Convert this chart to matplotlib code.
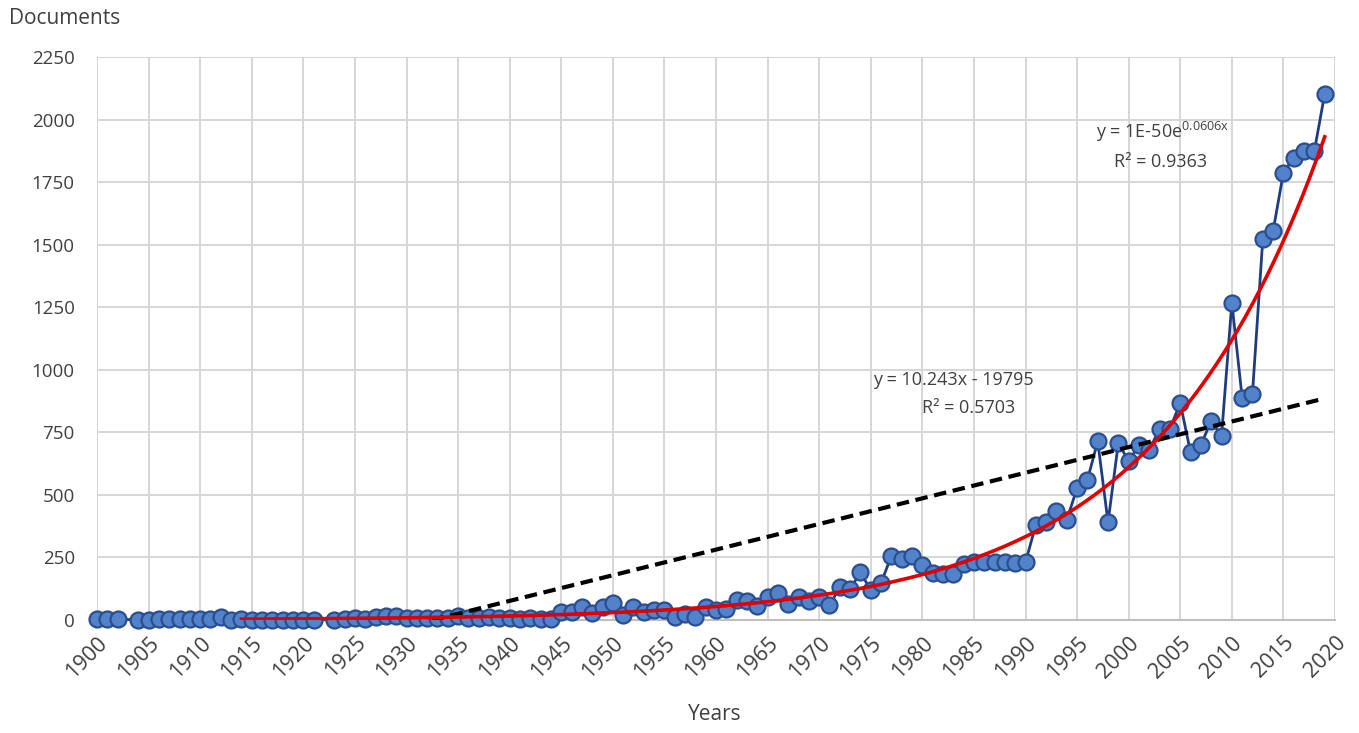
import matplotlib
matplotlib.use('Agg')
import matplotlib.pyplot as plt
import numpy as np

# Documents per year (1903 and 1922 have no entry)
years = [1900, 1901, 1902, 1904, 1905, 1906, 1907, 1908, 1909, 1910,
         1911, 1912, 1913, 1914, 1915, 1916, 1917, 1918, 1919, 1920,
         1921, 1923, 1924, 1925, 1926, 1927, 1928, 1929, 1930, 1931,
         1932, 1933, 1934, 1935, 1936, 1937, 1938, 1939, 1940, 1941,
         1942, 1943, 1944, 1945, 1946, 1947, 1948, 1949, 1950, 1951,
         1952, 1953, 1954, 1955, 1956, 1957, 1958, 1959, 1960, 1961,
         1962, 1963, 1964, 1965, 1966, 1967, 1968, 1969, 1970, 1971,
         1972, 1973, 1974, 1975, 1976, 1977, 1978, 1979, 1980, 1981,
         1982, 1983, 1984, 1985, 1986, 1987, 1988, 1989, 1990, 1991,
         1992, 1993, 1994, 1995, 1996, 1997, 1998, 1999, 2000, 2001,
         2002, 2003, 2004, 2005, 2006, 2007, 2008, 2009, 2010, 2011,
         2012, 2013, 2014, 2015, 2016, 2017, 2018, 2019]
documents = [3, 3, 3, 1, 1, 2, 2, 3, 5, 5,
             2, 12, 0, 4, 1, 1, 1, 1, 1, 1,
             1, 1, 5, 6, 3, 10, 14, 14, 8, 6,
             8, 6, 9, 16, 7, 7, 10, 6, 9, 4,
             6, 5, 4, 33, 33, 52, 29, 52, 68, 20,
             50, 33, 40, 40, 13, 22, 13, 50, 40, 45,
             80, 75, 55, 93, 107, 62, 93, 75, 93, 58,
             131, 124, 190, 120, 148, 256, 245, 256, 218, 188,
             182, 182, 224, 233, 230, 231, 233, 228, 231, 380,
             393, 434, 400, 527, 560, 714, 390, 708, 634, 700,
             680, 765, 765, 867, 670, 700, 795, 735, 1268, 888,
             905, 1521, 1555, 1788, 1848, 1875, 1875, 2102]

# trendlines (Excel labels)
lin_slope, lin_icpt = 10.243, -19795
exp_a, exp_b = 1.41e-50, 0.0606
exp_start = 1914

x_ticks = list(range(1900, 2021, 5))
y_ticks = list(range(0, 2251, 250))

plt.rcParams['font.family'] = ['Open Sans', 'DejaVu Sans']
plt.rcParams['mathtext.fontset'] = 'custom'
plt.rcParams['mathtext.rm'] = 'Open Sans'
plt.rcParams['mathtext.it'] = 'Open Sans'

fig = plt.figure(figsize=(13.59, 7.33), dpi=100)
ax = fig.add_axes([97/1359, 113/733, 1238/1359, 563/733])

yr = np.array(years, dtype=float)
ax.plot(yr, documents, color='#1F3C82', lw=2, marker='o', ms=11.5,
        mfc='#5282CA', mec='#2A4E8E', mew=1.6, clip_on=False, zorder=3)

# linear trend (dashed black)
xl = np.linspace(years[0], years[-1], 200)
ax.plot(xl, lin_slope*xl + lin_icpt, color='black', lw=3,
        ls=(0, (3, 1.6)), zorder=4)

# exponential trend (red)
xe = np.linspace(exp_start, years[-1], 300)
ax.plot(xe, exp_a*np.exp(exp_b*xe), color='#E00000', lw=2.6, zorder=5)

ax.set_xlim(1900, 2020)
ax.set_ylim(0, 2250)
ax.set_xticks(x_ticks)
ax.set_yticks(y_ticks)
ax.set_xticklabels([str(t) for t in x_ticks], rotation=45, ha='right',
                   va='top', rotation_mode='anchor')
ax.tick_params(axis='x', length=0, labelsize=15.5, colors='#404040', pad=9)
ax.tick_params(axis='y', length=0, labelsize=13.5, colors='#404040', pad=16)
ax.grid(True, color='#D6D6D6', lw=1.4)
ax.set_axisbelow(True)
for s in ['top', 'right', 'left']:
    ax.spines[s].set_visible(False)
ax.spines['bottom'].set_color('#BFBFBF')
ax.spines['bottom'].set_linewidth(1.5)

fig.text(9/1359, 1 - 18/733, 'Documents', fontsize=15, color='#404040',
         ha='left', va='center')
fig.text(715/1359, 1 - 715/733, 'Years', fontsize=15, color='#404040',
         ha='center', va='center')

ax.text(1983.0, 961, 'y = 10.243x - 19795', fontsize=13, color='#404040',
        ha='center', va='center')
ax.text(1984.5, 849, 'R² = 0.5703', fontsize=13, color='#404040',
        ha='center', va='center')
ax.text(2003.3, 1950, r'y = 1E-50e$^{0.0606x}$', fontsize=13, color='#404040',
        ha='center', va='center')
ax.text(2003.1, 1830, 'R² = 0.9363', fontsize=13, color='#404040',
        ha='center', va='center')

plt.savefig('out.png', dpi=100)
